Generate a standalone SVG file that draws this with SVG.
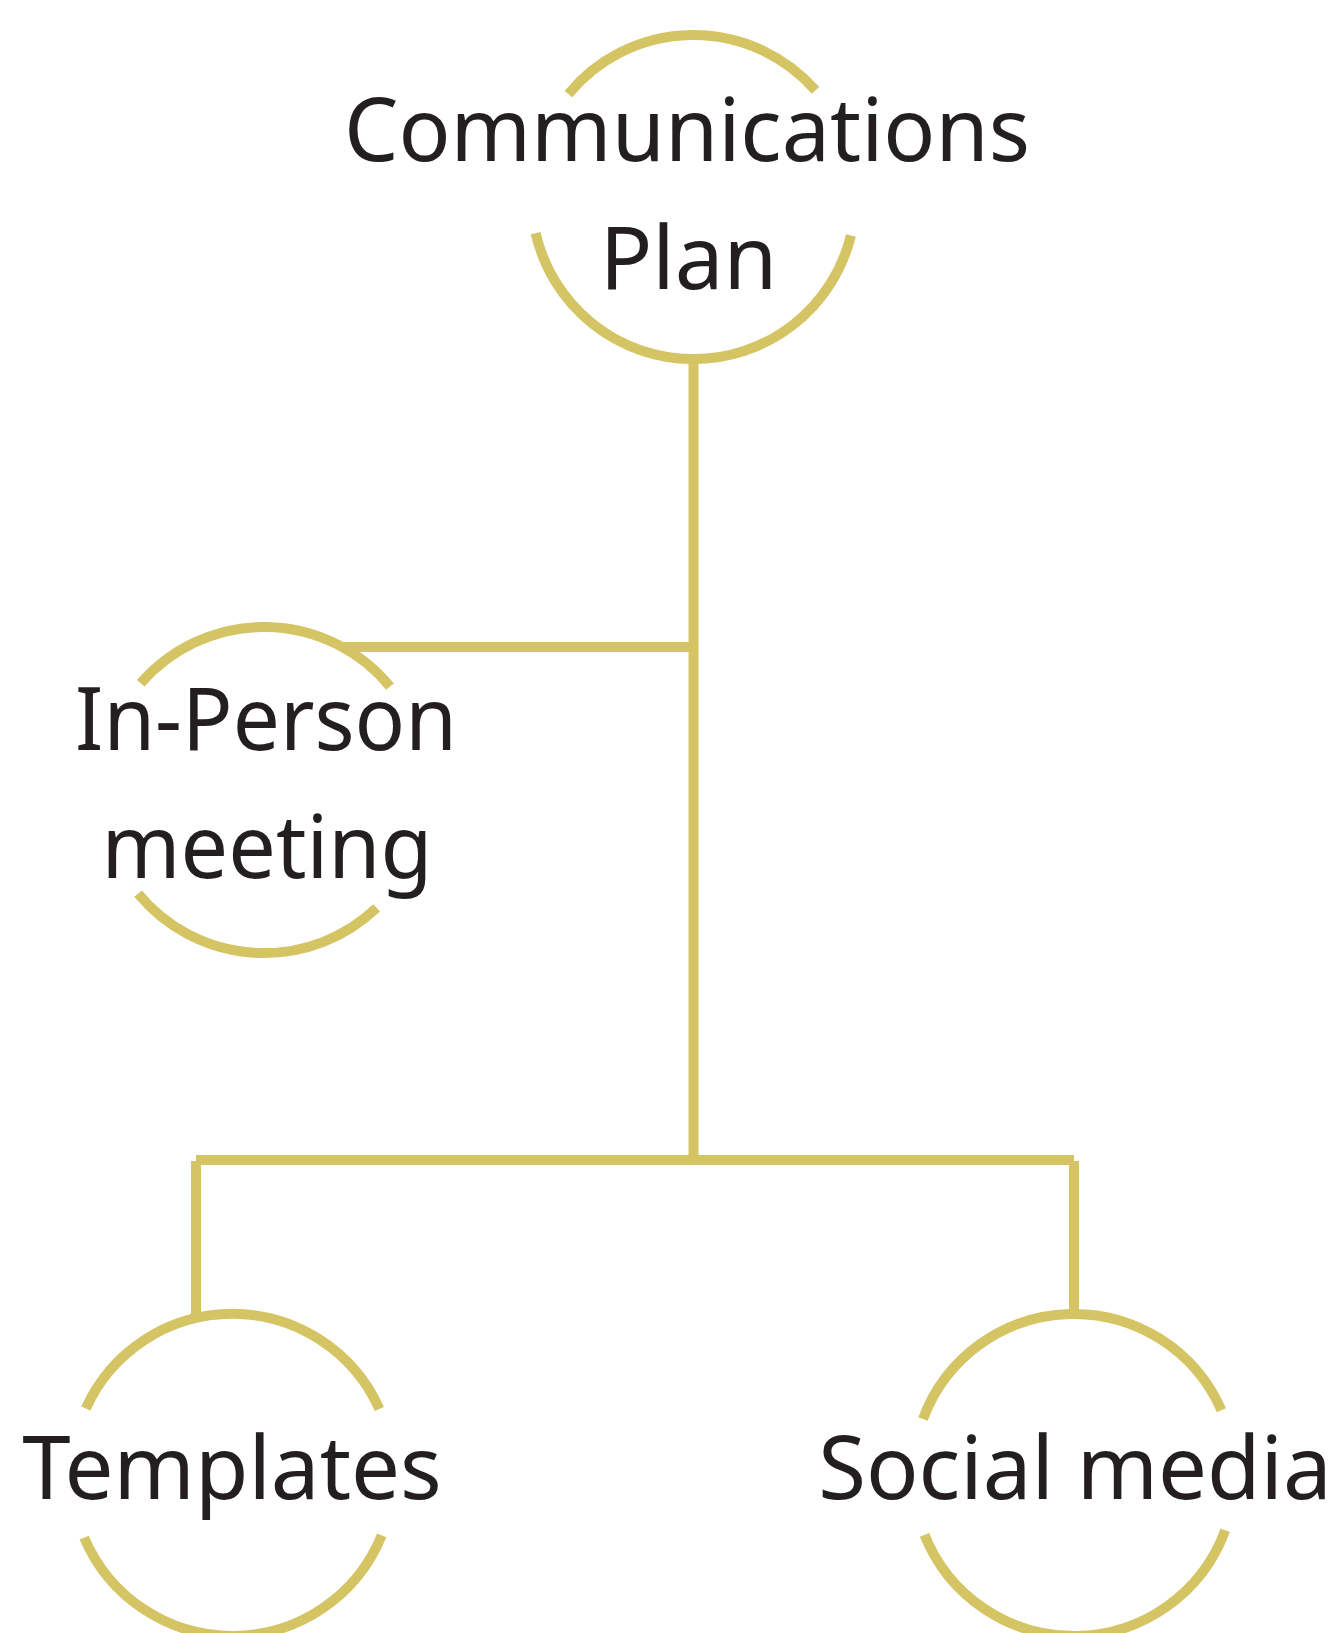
<svg xmlns="http://www.w3.org/2000/svg" width="1340" height="1633" viewBox="0 0 1340 1633">
<style>
.ring{fill:none;stroke:#d4c464;stroke-width:10;stroke-linecap:butt}
.wire{fill:none;stroke:#d4c464;stroke-width:10;stroke-linecap:butt}
.lbl{font-family:"Noto Sans","Open Sans","Liberation Sans",sans-serif;font-size:87px;fill:#231f20;text-anchor:middle}
</style>
<rect x="0" y="0" width="1340" height="1633" fill="#ffffff"/>
<g id="connectors">
<line class="wire" x1="693.5" y1="358" x2="693.5" y2="1160"/>
<line class="wire" x1="342" y1="647" x2="693.5" y2="647"/>
<line class="wire" x1="196" y1="1160" x2="1074" y2="1160"/>
<line class="wire" x1="196" y1="1161" x2="196" y2="1315"/>
<line class="wire" x1="1074" y1="1161" x2="1074" y2="1311"/>
</g>
<g id="node-communications-plan">
<path class="ring" d="M568.4 94.1 A162 162 0 0 1 815.5 90.4"/>
<path class="ring" d="M850.9 235.5 A162 162 0 0 1 535.6 233.1"/>
<text class="lbl" x="687" y="161" textLength="686" lengthAdjust="spacingAndGlyphs">Communications</text>
<text class="lbl" x="688.5" y="289">Plan</text>
</g>
<g id="node-in-person-meeting">
<path class="ring" d="M140.7 683.3 A163 163 0 0 1 390 686.6"/>
<path class="ring" d="M376.6 907.9 A163 163 0 0 1 138.1 893.6"/>
<text class="lbl" x="266" y="750" textLength="382" lengthAdjust="spacingAndGlyphs">In-Person</text>
<text class="lbl" x="267" y="878" textLength="331" lengthAdjust="spacingAndGlyphs">meeting</text>
</g>
<g id="node-templates">
<path class="ring" d="M85.8 1408.5 A161 161 0 0 1 379.4 1409"/>
<path class="ring" d="M381.7 1535.4 A161 161 0 0 1 84.2 1537.6"/>
<text class="lbl" x="232" y="1499">Templates</text>
</g>
<g id="node-social-media">
<path class="ring" d="M923 1419 A161 161 0 0 1 1221.4 1410.2"/>
<path class="ring" d="M1225.2 1530.3 A161 161 0 0 1 924.5 1534.8"/>
<text class="lbl" x="1075" y="1499">Social media</text>
</g>
</svg>
